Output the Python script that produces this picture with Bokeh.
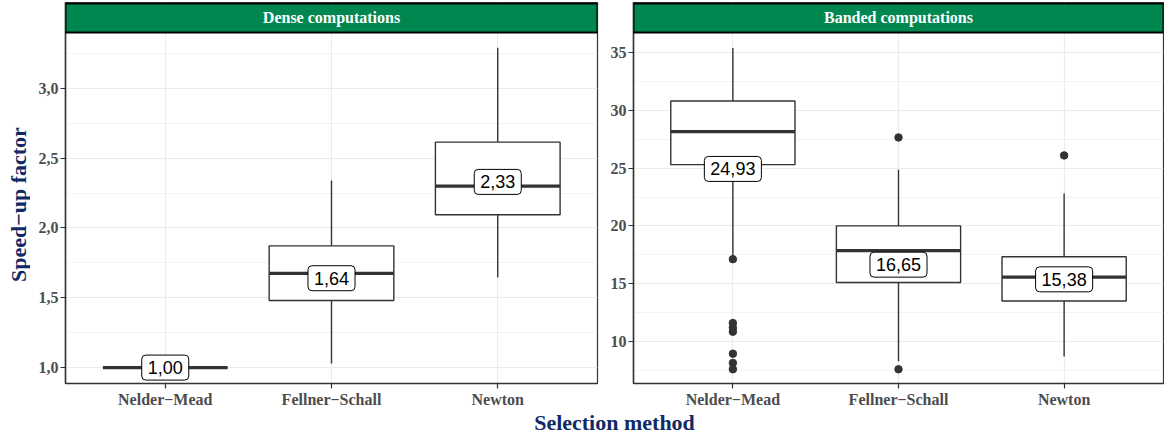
import math
from bokeh.plotting import figure
from bokeh.models import (Range1d, FactorRange, FixedTicker, BoxAnnotation, Label,
                          CustomJSTickFormatter)
from bokeh.transform import dodge
from bokeh.layouts import column, row
from bokeh.core.properties import value
from bokeh.embed import file_html
from bokeh.resources import INLINE

# ---------------- data ----------------
methods = ["Nelder−Mead", "Fellner−Schall", "Newton"]
panel_titles = ["Dense computations", "Banded computations"]
y_title = "Speed−up factor"
x_title = "Selection method"

dense_lower_whisker = [1.00, 1.03, 1.645]
dense_q1 = [1.00, 1.48, 2.095]
dense_median = [1.00, 1.675, 2.30]
dense_q3 = [1.00, 1.872, 2.615]
dense_upper_whisker = [1.00, 2.34, 3.29]
dense_mean = [1.00, 1.64, 2.33]
dense_outlier_method = []
dense_outlier_value = []
dense_ticks = [1.0, 1.5, 2.0, 2.5, 3.0]
dense_limits = [0.886, 3.40]

banded_lower_whisker = [17.2, 8.3, 8.7]
banded_q1 = [25.3, 15.1, 13.5]
banded_median = [28.15, 17.87, 15.57]
banded_q3 = [30.8, 20.0, 17.33]
banded_upper_whisker = [35.4, 24.85, 22.8]
banded_mean = [24.93, 16.65, 15.38]
banded_outlier_method = ["Nelder−Mead"] * 7 + ["Fellner−Schall"] * 2 + ["Newton"]
banded_outlier_value = [17.12, 11.6, 11.2, 10.85, 8.95, 8.15, 7.6, 27.65, 7.6, 26.1]
banded_ticks = [10, 15, 20, 25, 30, 35]
banded_limits = [6.37, 36.73]

# ---------------- style ----------------
GREEN = "#00874F"
NAVY = "#102A66"
DARK = "#333333"
GRID = "#EBEBEB"
TICK_TXT = "#4D4D4D"
SERIF = "Liberation Serif"
SANS = "Liberation Sans"

FRAME_H = 381
STRIP_H = 30
BORDER_TOP, BORDER_BOTTOM = 2, 26
BOX_W = 0.75
PAD = 0.1  # padding of the discrete axis, in category units on each side
YLAB_W = 30
LEFT1, FRAME1_W, RIGHT1 = 35, 532, 2
LEFT2, FRAME2_W, RIGHT2 = 34, 530, 1


def make_panel(title, lo, q1, med, q3, hi, mean, out_m, out_v, ticks, limits,
               frame_w, border_left, border_right, label_fmt):
    plot_h = FRAME_H - STRIP_H
    upp = (limits[1] - limits[0]) / plot_h
    top = limits[1] + STRIP_H * upp
    step = ticks[1] - ticks[0]
    minor = [ticks[0] - step / 2] + [t + step / 2 for t in ticks]
    n = len(methods)

    p = figure(x_range=FactorRange(*methods, range_padding=2 * PAD / n, range_padding_units="percent"),
               y_range=Range1d(limits[0], top),
               frame_width=frame_w, frame_height=FRAME_H,
               min_border_left=border_left, min_border_right=border_right,
               min_border_top=BORDER_TOP, min_border_bottom=BORDER_BOTTOM,
               output_backend="svg", toolbar_location=None)
    p.background_fill_color = "white"
    p.border_fill_color = "white"
    p.outline_line_color = DARK
    p.outline_line_width = 1.2

    p.yaxis.ticker = FixedTicker(ticks=ticks, minor_ticks=minor)
    if label_fmt:
        p.yaxis.formatter = CustomJSTickFormatter(code="return tick.toFixed(1).replace('.', ',')")
    for ax in (p.xaxis[0], p.yaxis[0]):
        ax.axis_line_color = DARK
        ax.axis_line_width = 1.5
        ax.major_tick_line_color = DARK
        ax.major_tick_line_width = 1.2
        ax.major_tick_out = 5
        ax.major_tick_in = 0
        ax.minor_tick_line_color = None
        ax.major_label_text_font = SERIF
        ax.major_label_text_font_style = "bold"
        ax.major_label_text_font_size = "16px"
        ax.major_label_text_color = TICK_TXT
        ax.major_label_standoff = 2

    p.xgrid.grid_line_color = GRID
    p.xgrid.grid_line_width = 1.1
    p.ygrid.grid_line_color = GRID
    p.ygrid.grid_line_width = 1.1
    p.ygrid.minor_grid_line_color = GRID
    p.ygrid.minor_grid_line_width = 0.6

    # whiskers
    p.segment(x0=methods, y0=q3, x1=methods, y1=hi, line_color=DARK, line_width=1.4)
    p.segment(x0=methods, y0=q1, x1=methods, y1=lo, line_color=DARK, line_width=1.4)
    # boxes
    p.vbar(x=methods, width=BOX_W, bottom=q1, top=q3, fill_color="white",
           line_color=DARK, line_width=1.4)
    # medians
    src = dict(m=methods, med=med)
    p.segment(x0=dodge("m", -BOX_W / 2, range=p.x_range), y0="med",
              x1=dodge("m", BOX_W / 2, range=p.x_range), y1="med",
              source=src, line_color=DARK, line_width=3.2)
    # outliers
    if out_v:
        p.scatter(x=out_m, y=out_v, size=7.5, color=DARK)
    # mean labels
    p.text(x=methods, y=mean, text=[f"{m:.2f}".replace(".", ",") for m in mean],
           text_align="center", text_baseline="middle",
           text_font=value(SANS), text_font_size="18px", text_color="black",
           background_fill_color="white", border_line_color="black",
           border_line_width=1, padding=6, border_radius=4)

    # strip
    strip = BoxAnnotation(bottom=limits[1], top=top - upp, fill_color=GREEN, fill_alpha=1,
                          line_color="black", line_width=2, line_alpha=1)
    p.add_layout(strip)
    p.add_layout(Label(x=n / 2, y=limits[1] + STRIP_H * upp / 2, text=title,
                       text_align="center", text_baseline="middle",
                       text_font=SERIF, text_font_style="bold", text_font_size="16px",
                       text_color="white"))
    return p


p1 = make_panel(panel_titles[0], dense_lower_whisker, dense_q1, dense_median, dense_q3,
                dense_upper_whisker, dense_mean, dense_outlier_method, dense_outlier_value,
                dense_ticks, dense_limits, FRAME1_W, LEFT1, RIGHT1, True)
p2 = make_panel(panel_titles[1], banded_lower_whisker, banded_q1, banded_median, banded_q3,
                banded_upper_whisker, banded_mean, banded_outlier_method, banded_outlier_value,
                banded_ticks, banded_limits, FRAME2_W, LEFT2, RIGHT2, False)

# y-axis title, centred on the plotting area (below the strips)
FIG_H = BORDER_TOP + FRAME_H + BORDER_BOTTOM
py = figure(width=YLAB_W, height=FIG_H, x_range=Range1d(0, YLAB_W), y_range=Range1d(0, FIG_H),
            min_border=0, output_backend="svg", toolbar_location=None,
            x_axis_location=None, y_axis_location=None)
py.outline_line_color = None
py.grid.visible = False
py.text(x=[YLAB_W * 0.6], y=[BORDER_BOTTOM + (FRAME_H - STRIP_H) / 2 - 10], text=[y_title],
        angle=math.pi / 2, text_align="center", text_baseline="middle",
        text_font=value(SERIF), text_font_style="bold", text_font_size="22px", text_color=NAVY)

TOTAL_W = YLAB_W + LEFT1 + FRAME1_W + RIGHT1 + LEFT2 + FRAME2_W + RIGHT2
TITLE_H = 24
pt = figure(width=TOTAL_W, height=TITLE_H, x_range=Range1d(0, TOTAL_W), y_range=Range1d(0, TITLE_H),
            min_border=0, output_backend="svg", toolbar_location=None,
            x_axis_location=None, y_axis_location=None)
pt.outline_line_color = None
pt.grid.visible = False
pt.text(x=[(YLAB_W + LEFT1 + TOTAL_W - RIGHT2) / 2], y=[TITLE_H / 2], text=[x_title],
        text_align="center", text_baseline="middle", text_font=value(SERIF),
        text_font_style="bold", text_font_size="22px", text_color=NAVY)

layout = column(row(py, p1, p2), pt)
open("out.html", "w").write(file_html(layout, INLINE))
